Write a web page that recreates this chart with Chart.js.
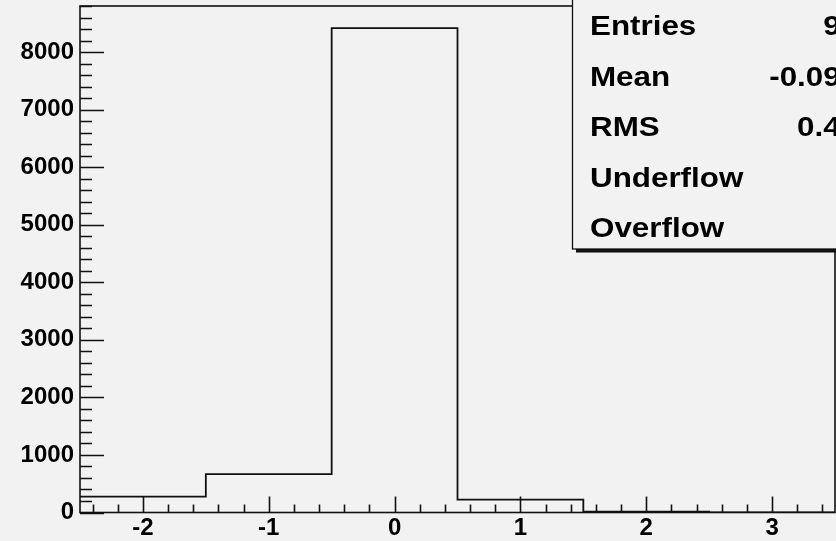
<!DOCTYPE html>
<html>
<head>
<meta charset="utf-8">
<script src="https://cdn.jsdelivr.net/npm/chart.js@4.4.1/dist/chart.umd.min.js"></script>
<style>
  html, body { margin: 0; padding: 0; background: #f2f2f2; overflow: hidden; }
  #wrap { width: 836px; height: 541px; }
</style>
</head>
<body>
<div id="wrap"><canvas id="hist" width="836" height="541"></canvas></div>
<script>
// histogram bins (edges and counts)
const binEdges = [-2.5, -1.5, -0.5, 0.5, 1.5, 2.5, 3.5];
const binCounts = [275, 665, 8415, 225, 15, 0];

const xTicks = [-2, -1, 0, 1, 2, 3];
const yTicks = [0, 1000, 2000, 3000, 4000, 5000, 6000, 7000, 8000];

// stats box
const statNames = ["Entries", "Mean", "RMS", "Underflow", "Overflow"];
const statValues = ["9595", "-0.09621", "0.4590", "0", "0"];

const BG = "#f2f2f2";
const INK = "#111";

// step outline: each edge point carries the height of the bin starting there
const points = binEdges.map((x, i) => ({
  x: x,
  y: binCounts[Math.min(i, binCounts.length - 1)]
}));

// frame, inward ticks and the stats box, ROOT style
const rootFrame = {
  id: "rootFrame",
  beforeDraw(chart) {
    const ctx = chart.ctx;
    ctx.save();
    ctx.fillStyle = BG;
    ctx.fillRect(0, 0, chart.width, chart.height);
    ctx.restore();
  },
  afterDatasetsDraw(chart) {
    const { ctx, chartArea: a, scales } = chart;
    const xs = scales.x, ys = scales.y;
    ctx.save();
    ctx.strokeStyle = INK;
    ctx.lineWidth = 1.6;
    ctx.strokeRect(a.left, a.top, a.right - a.left, a.bottom - a.top);

    ctx.beginPath();
    // y ticks, every 200 with majors at 1000
    for (let v = 0; v <= ys.max + 1; v += 200) {
      const py = Math.round(ys.getPixelForValue(v)) + 0.5;
      const len = v % 1000 === 0 ? 24 : 12;
      ctx.moveTo(a.left, py);
      ctx.lineTo(a.left + len, py);
    }
    // x ticks, every 0.2 with majors at integers
    for (let k = -12; k <= 17; k++) {
      const v = k / 5;
      if (v <= xs.min || v >= xs.max) continue;
      const px = Math.round(xs.getPixelForValue(v)) + 0.5;
      const len = k % 5 === 0 ? 16 : 8;
      ctx.moveTo(px, a.bottom);
      ctx.lineTo(px, a.bottom - len);
    }
    ctx.stroke();

    // stats box with shadow, runs off the right and top edge
    const bx = 572.5, by = -20, bw = 360, bh = 269;
    ctx.fillStyle = INK;
    ctx.fillRect(bx + 3.5, by + bh, bw, 3.5);
    ctx.fillStyle = BG;
    ctx.fillRect(bx, by, bw, bh);
    ctx.lineWidth = 1.3;
    ctx.strokeRect(bx, by, bw, bh);

    ctx.fillStyle = "#000";
    ctx.font = "bold 28px 'Liberation Sans', Arial, sans-serif";
    const sx = 1.12;
    statNames.forEach((name, i) => {
      const base = 35 + i * 50.6;
      ctx.save();
      ctx.translate(590, base);
      ctx.scale(sx, 1);
      ctx.textAlign = "left";
      ctx.fillText(name, 0, 0);
      ctx.restore();
      ctx.save();
      ctx.translate(893, base);
      ctx.scale(sx, 1);
      ctx.textAlign = "right";
      ctx.fillText(statValues[i], 0, 0);
      ctx.restore();
    });
    ctx.restore();
  }
};

const tickFont = { family: "'Liberation Sans', Arial, sans-serif", size: 24, weight: "bold" };

new Chart(document.getElementById("hist"), {
  type: "line",
  data: {
    datasets: [{
      data: points,
      stepped: "before",
      borderColor: INK,
      borderWidth: 1.8,
      pointRadius: 0,
      fill: false
    }]
  },
  options: {
    responsive: false,
    animation: false,
    layout: { padding: { top: 6, right: 1, left: 0, bottom: 0 } },
    plugins: { legend: { display: false }, tooltip: { enabled: false } },
    scales: {
      x: {
        type: "linear",
        min: binEdges[0],
        max: binEdges[binEdges.length - 1],
        afterBuildTicks(scale) { scale.ticks = xTicks.map(v => ({ value: v })); },
        afterFit(scale) {
          scale.height = 28.5;
          scale.paddingLeft = 0;
          scale.paddingRight = 0;
        },
        ticks: {
          font: tickFont, color: "#000", padding: 1, maxRotation: 0, autoSkip: false,
          callback: v => String(v)
        },
        grid: { display: false, drawTicks: false },
        border: { display: false }
      },
      y: {
        min: 0,
        max: 8800,
        afterBuildTicks(scale) { scale.ticks = yTicks.map(v => ({ value: v })); },
        afterFit(scale) {
          scale.width = 80;
          scale.paddingTop = 0;
          scale.paddingBottom = 0;
        },
        ticks: {
          font: tickFont, color: "#000", padding: 6, autoSkip: false,
          callback: v => String(v)
        },
        grid: { display: false, drawTicks: false },
        border: { display: false }
      }
    }
  },
  plugins: [rootFrame]
});
</script>
</body>
</html>
